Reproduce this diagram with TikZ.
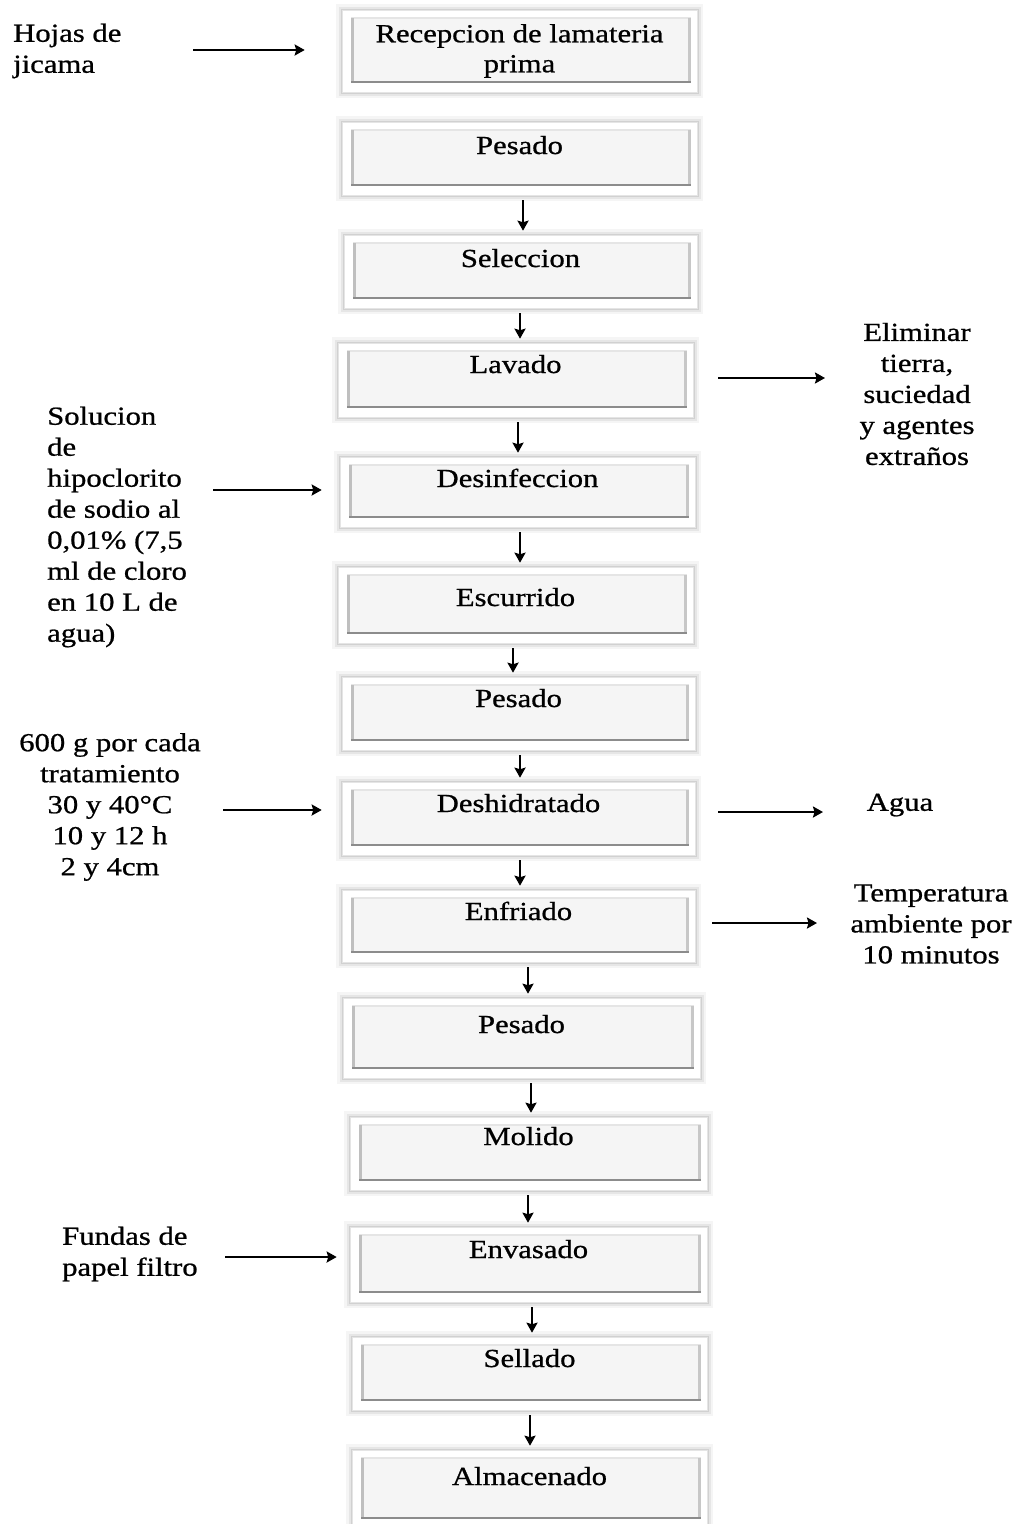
\documentclass[tikz,border=0pt]{standalone}
\usepackage{fontspec}
\setmainfont{Liberation Serif}[FakeStretch=1.18,FakeBold=0.8]
\usetikzlibrary{arrows.meta,calc}
\tikzset{
  txt/.style={font=\fontsize{26}{31}\selectfont, inner sep=0pt},
  stepbox/.style={rectangle, fill=white, draw=gray!20, line width=0.6pt,
    inner xsep=0pt, inner ysep=0pt, align=center,
    font=\fontsize{26}{30}\selectfont,
    preaction={draw=black, opacity=0.04, line width=12pt},
    preaction={draw=black, opacity=0.06, line width=7pt},
    preaction={draw=black, opacity=0.09, line width=3pt},
    path picture={
      \fill[black!4] ([xshift=9pt,yshift=-8pt]path picture bounding box.north west)
        rectangle ([xshift=-6pt,yshift=9pt]path picture bounding box.south east);
      \draw[black!10, line width=1.2pt] ([xshift=9pt,yshift=-8pt]path picture bounding box.north west)
        -- ([xshift=-6pt,yshift=-8pt]path picture bounding box.north east);
      \draw[black!25, line width=2.5pt] ([xshift=10.5pt,yshift=-8pt]path picture bounding box.north west)
        -- ([xshift=10.5pt,yshift=9pt]path picture bounding box.south west);
      \draw[black!22, line width=2.5pt] ([xshift=-7.5pt,yshift=-8pt]path picture bounding box.north east)
        -- ([xshift=-7.5pt,yshift=9pt]path picture bounding box.south east);
      \draw[black!45, line width=2.5pt] ([xshift=9pt,yshift=10pt]path picture bounding box.south west)
        -- ([xshift=-6pt,yshift=10pt]path picture bounding box.south east);
    }},
  arr/.style={line width=2.1pt, -{Stealth[length=10pt,width=11pt,inset=1.5pt]}}
}
\newcommand\varr[3]{\draw[arr] ($(#1.south)+(#3,5)$) -- ($(#1.south |- #2.north)+(#3,-4)$);}
\begin{document}
\begin{tikzpicture}[x=1pt,y=-1pt]
\useasboundingbox[fill=white] (0,0) rectangle (1016,1524);

% process boxes
\node[stepbox, minimum width=355pt, minimum height=82pt] (rec) at (519.5,51) {Recepcion de lamateria\\prima};
\node[stepbox, minimum width=355pt, text height=32pt, text depth=41pt] (p1) at (519.5,158.5) {Pesado};
\node[stepbox, minimum width=353pt, text height=32pt, text depth=41pt] (sel) at (520.5,271.5) {Seleccion};
\node[stepbox, minimum width=355pt, text height=30pt, text depth=44pt] (lav) at (515.5,380) {Lavado};
\node[stepbox, minimum width=355pt, text height=30pt, text depth=40pt] (des) at (517.5,492) {Desinfeccion};
\node[stepbox, minimum width=355pt, text height=39pt, text depth=37pt] (esc) at (515.5,605) {Escurrido};
\node[stepbox, minimum width=353pt, text height=30pt, text depth=43pt] (p2) at (518.5,713.5) {Pesado};
\node[stepbox, minimum width=353pt, text height=30pt, text depth=43pt] (desh) at (518.5,818.5) {Deshidratado};
\node[stepbox, minimum width=353pt, text height=30pt, text depth=42pt] (enf) at (518.5,926) {Enfriado};
\node[stepbox, minimum width=357pt, text height=35pt, text depth=45pt] (p3) at (521.5,1038) {Pesado};
\node[stepbox, minimum width=357pt, text height=28pt, text depth=45pt] (mol) at (528.5,1153.5) {Molido};
\node[stepbox, minimum width=357pt, text height=31pt, text depth=44pt] (env) at (528.5,1264.5) {Envasado};
\node[stepbox, minimum width=355pt, text height=30pt, text depth=43pt] (sell) at (529.5,1373.5) {Sellado};
\node[stepbox, minimum width=355pt, text height=35pt, text depth=43pt] (alm) at (529.5,1489) {Almacenado};

% vertical arrows
\varr{p1}{sel}{3.5}
\varr{sel}{lav}{-0.5}
\varr{lav}{des}{2.5}
\varr{des}{esc}{2.5}
\varr{esc}{p2}{-2.5}
\varr{p2}{desh}{1.5}
\varr{desh}{enf}{1.5}
\varr{enf}{p3}{9.5}
\varr{p3}{mol}{9.5}
\varr{mol}{env}{-0.5}
\varr{env}{sell}{3.5}
\varr{sell}{alm}{0.5}

% side texts
\node[txt, anchor=west, align=left] (hojas) at (13,51) {Hojas de\\jicama};
\node[txt, anchor=west, align=left] (sol) at (47,527) {Solucion\\de\\hipoclorito\\de sodio al\\0,01\% (7,5\\ml de cloro\\en 10 L de\\agua)};
\node[txt, align=center] (g600) at (110,807) {600 g por cada\\tratamiento\\30 y 40°C\\10 y 12 h\\2 y 4cm};
\node[txt, anchor=west, align=left] (fundas) at (62,1254) {Fundas de\\papel filtro};
\node[txt, align=center] (elim) at (917,394) {Eliminar\\tierra,\\suciedad\\y agentes\\extraños};
\node[txt] (agua) at (900,805) {Agua};
\node[txt, align=center] (temp) at (931,924) {Temperatura\\ambiente por\\10 minutos};

% side arrow end points
\coordinate (hin) at (193,50);
\coordinate (sin) at (213,490);
\coordinate (gin) at (223,810);
\coordinate (fin) at (225,1257);
\coordinate (eout) at (825,378);
\coordinate (aout) at (823,812);
\coordinate (tout) at (817,923);

\draw[arr, shorten >=37pt] (hin) -- (hin -| rec.west);
\draw[arr, shorten >=18pt] (sin) -- (sin -| des.west);
\draw[arr, shorten >=20pt] (gin) -- (gin -| desh.west);
\draw[arr, shorten >=13pt] (fin) -- (fin -| env.west);
\draw[arr, shorten <=25pt] (eout -| lav.east) -- (eout);
\draw[arr, shorten <=23pt] (aout -| desh.east) -- (aout);
\draw[arr, shorten <=17pt] (tout -| enf.east) -- (tout);
\end{tikzpicture}
\end{document}
